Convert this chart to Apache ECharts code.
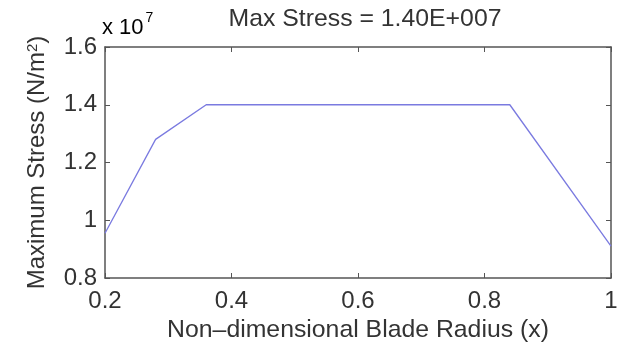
<!DOCTYPE html>
<html>
<head>
<meta charset="utf-8">
<script src="https://cdn.jsdelivr.net/npm/echarts@6/dist/echarts.min.js"></script>
<style>
  html, body { margin: 0; padding: 0; background: #fff; }
  #chart { width: 625px; height: 343px; }
</style>
</head>
<body>
<div id="chart"></div>
<script>
// blade radius (non-dimensional) and max stress, in units of 1e7 N/m^2
const radius = [0.2, 0.28, 0.36, 0.84, 1.0]
const stress = [0.955, 1.28, 1.40, 1.40, 0.91]
const titleText = 'Max Stress = 1.40E+007'

const font = 'Liberation Sans, Arial, sans-serif'
const axisColor = '#555'
const textColor = '#333'
const fs = 24

const chart = echarts.init(document.getElementById('chart'))

// box axes: bottom/left with labels, top/right just ticks
const boxAxis = (extra) => Object.assign({
  type: 'value',
  axisLine: {show: true, onZero: false, lineStyle: {color: axisColor, width: 1.5}},
  axisTick: {show: true, inside: true, length: 5, lineStyle: {color: axisColor}},
  splitLine: {show: false},
}, extra)

const option = {
  animation: false,
  backgroundColor: '#fff',
  title: {
    text: titleText,
    left: 360,
    textAlign: 'center',
    top: 2,
    textStyle: {fontFamily: font, fontSize: 24.8, fontWeight: 'normal', color: textColor}
  },
  grid: {left: 105, right: 14, top: 47, bottom: 65, outerBoundsMode: 'none', containLabel: false},
  xAxis: [
    boxAxis({
      min: 0.2, max: 1, interval: 0.2, position: 'bottom',
      name: 'Non\u2013dimensional Blade Radius (x)',
      nameLocation: 'middle', nameGap: 40,
      nameTextStyle: {fontFamily: font, fontSize: 24.8, color: textColor},
      axisLabel: {fontFamily: font, fontSize: fs, color: textColor, margin: 11,
        formatter: v => String(+v.toFixed(1))}
    }),
    boxAxis({min: 0.2, max: 1, interval: 0.2, position: 'top', axisLabel: {show: false}})
  ],
  yAxis: [
    boxAxis({
      min: 0.8, max: 1.6, interval: 0.2, position: 'left',
      name: 'Maximum Stress (N/m{s|2})',
      nameLocation: 'middle', nameGap: 55,
      nameTextStyle: {fontFamily: font, fontSize: fs, color: textColor,
        rich: {s: {fontFamily: font, fontSize: 15, color: textColor, verticalAlign: 'top', padding: [0, 0, 10, 0]}}},
      axisLabel: {fontFamily: font, fontSize: fs, color: textColor, margin: 8,
        formatter: v => String(+v.toFixed(1))}
    }),
    boxAxis({min: 0.8, max: 1.6, interval: 0.2, position: 'right', axisLabel: {show: false}})
  ],
  graphic: [{
    type: 'text',
    left: 102,
    top: 11,
    style: {
      text: '{b|x 10}{s|7}',
      rich: {
        b: {fontFamily: font, fontSize: 22, color: textColor, verticalAlign: 'bottom', lineHeight: 28},
        s: {fontFamily: font, fontSize: 14, color: textColor, verticalAlign: 'top', lineHeight: 28, padding: [0, 0, 14, 2]}
      }
    }
  }],
  series: [{
    type: 'line',
    data: radius.map((x, i) => [x, stress[i]]),
    showSymbol: false,
    lineStyle: {color: '#7a7ae0', width: 1.3},
    clip: false
  }]
}

chart.setOption(option)
</script>
</body>
</html>
